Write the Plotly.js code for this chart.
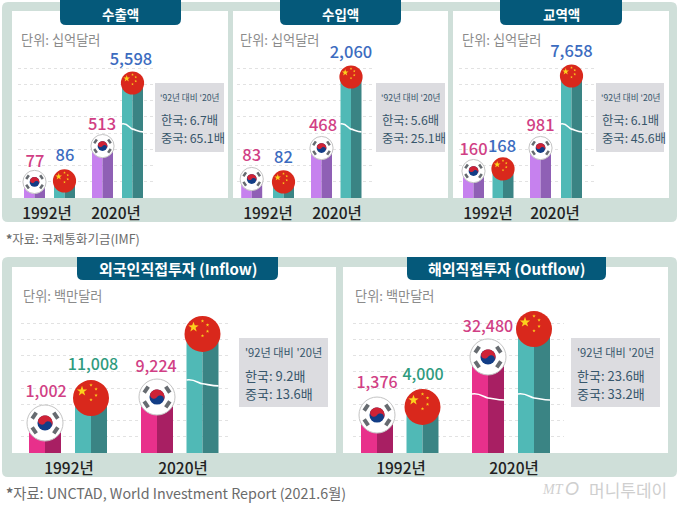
<!DOCTYPE html>
<html><head><meta charset="utf-8">
<script src="https://cdn.plot.ly/plotly-3.0.1.min.js"></script>
<style>html,body{margin:0;padding:0;background:#fff}#c{width:680px;height:505px}</style>
</head><body><div id="c"></div>
<script>
// ---- data ----
const years = ['1992년', '2020년'];
const panelTitles = ['수출액', '수입액', '교역액', '외국인직접투자 (Inflow)', '해외직접투자 (Outflow)'];
const unitLabels = ['단위: 십억달러', '단위: 십억달러', '단위: 십억달러', '단위: 백만달러', '단위: 백만달러'];
const exportKorea = [77, 513],      exportChina = [86, 5598];
const importKorea = [83, 468],      importChina = [82, 2060];
const tradeKorea = [160, 981],      tradeChina = [168, 7658];
const inflowKorea = [1002, 9224],   inflowChina = [11008, 149324];
const outflowKorea = [1376, 32480], outflowChina = [4000, 132940];
// The picture's bars are pictorial (broken scale): drawn heights in gridline steps.
const exportKoreaDrawn = [0.99, 3.2],   exportChinaDrawn = [1.05, 7.09];
const importKoreaDrawn = [1.17, 3.08],  importChinaDrawn = [0.99, 7.46];
const tradeKoreaDrawn = [1.66, 3.08],   tradeChinaDrawn = [1.79, 7.52];
const inflowKoreaDrawn = [1.85, 3.45],  inflowChinaDrawn = [3.39, 7.34];
const outflowKoreaDrawn = [2.34, 5.92], outflowChinaDrawn = [2.84, 7.64];
const koreaRatios = ['6.7배', '5.6배', '6.1배', '9.2배', '23.6배'];
const chinaRatios = ['65.1배', '25.1배', '45.6배', '13.6배', '33.2배'];
const compareLabel = "'92년 대비 '20년";
const sourceTop = '<b>*</b>자료: 국제통화기금(IMF)';
const sourceBottom = '<b>*</b>자료: UNCTAD, World Investment Report (2021.6월)';

// ---- layout of the five panels (page pixels) ----
const W = 680, H = 505;
const FONT = '"Noto Sans CJK KR","Noto Sans",sans-serif';
const px = x => x / W, py = y => 1 - y / H;
const panels = [
 {k:exportKorea,c:exportChina,kd:exportKoreaDrawn,cd:exportChinaDrawn,grid:[18,153],base:198,top:52,ticks:[47,116],
  barK:[34.5,102.5],barC:[64.5,132.5],bw:21,kRise:[19,20],cRise:[24,22],kX:[0.5,-0.5],cX:[0.5,-1.5],tab:[60,181],tabY:[0,25],box:[155,83,224,152],unitX:20,unitY:40,
  breaks:[[3,4.32]],small:true,flagR:11.6},
 {k:importKorea,c:importChina,kd:importKoreaDrawn,cd:importChinaDrawn,grid:[237,372],base:198,top:52,ticks:[268,337],
  barK:[251.7,321.5],barC:[283.5,351],bw:21,kRise:[22,21],cRise:[23,23],kX:[0,1.5],cX:[0,0],tab:[280,401],tabY:[0,25],box:[376,83,445,152],unitX:239,unitY:40,
  breaks:[[3,4.32]],small:true,flagR:11.6},
 {k:tradeKorea,c:tradeChina,kd:tradeKoreaDrawn,cd:tradeChinaDrawn,grid:[459,594],base:198,top:52,ticks:[488,555],
  barK:[473.5,540.5],barC:[503,571.5],bw:21,kRise:[20,21],cRise:[21,23],kX:[0,0],cX:[-1,0],tab:[500,622],tabY:[0,25],box:[596,83,664,152],unitX:461,unitY:40,
  breaks:[[3,4.32]],small:true,flagR:11.6},
 {k:inflowKorea,c:inflowChina,kd:inflowKoreaDrawn,cd:inflowChinaDrawn,grid:[21,230],base:453,top:307,ticks:[69,183],
  barK:[45,157],barC:[91,202.5],bw:32,kRise:[30,29],cRise:[32,30],kX:[1,-1],cX:[2,0.5],tab:[77,278],tabY:[257,280],box:[239,338,328,407],unitX:22,unitY:295,
  breaks:[[3,4.32]],small:false,flagR:18},
 {k:outflowKorea,c:outflowChina,kd:outflowKoreaDrawn,cd:outflowChinaDrawn,grid:[353,564],base:453,top:307,ticks:[401,514],
  barK:[377,488],barC:[422.5,534],bw:32,kRise:[31,29],cRise:[31,31],kX:[0,0],cX:[0.5,0],tab:[407,606],tabY:[257,280],box:[571,338,660,407],unitX:354,unitY:295,
  breaks:[[2,3.45],[3,3.45]],small:false,flagR:18}
];
const COL = {
  bg:'#cfdfd9', tab:'#05597a', box:'#dcdce0', boxText:'#37566b', grid:'#e2e2e2',
  kLightTop:'#c681ee', kDarkTop:'#8f60b5', kLightBot:'#e8308b', kDarkBot:'#a81f63',
  cLight:'#50b9b6', cDark:'#3a8484', pink:'#d13f85', blue:'#3c6cc0', green:'#2f9b7e',
  red:'#d9281c', star:'#fbd11d', kBlue:'#123d86', kRed:'#cf2236', tri:'#666b70', ring:'#c4c4c4'
};

const rr = (x0,y0,x1,y1,rt,rb) => {
  const X=px, Y=py;
  return `M ${X(x0+rt)} ${Y(y0)} L ${X(x1-rt)} ${Y(y0)} Q ${X(x1)} ${Y(y0)} ${X(x1)} ${Y(y0+rt)} L ${X(x1)} ${Y(y1-rb)} Q ${X(x1)} ${Y(y1)} ${X(x1-rb)} ${Y(y1)} L ${X(x0+rb)} ${Y(y1)} Q ${X(x0)} ${Y(y1)} ${X(x0)} ${Y(y1-rb)} L ${X(x0)} ${Y(y0+rt)} Q ${X(x0)} ${Y(y0)} ${X(x0+rt)} ${Y(y0)} Z`;
};
const paperRect = (x0,y0,x1,y1,color,rt=0,rb=0) => ({type:'path',layer:'below',xref:'paper',yref:'paper',
  path:rr(x0,y0,x1,y1,rt,rb),fillcolor:color,line:{width:0}});
const textAt = (x,y,text,size,color,anchor='left',extra={}) => ({xref:'paper',yref:'paper',x:px(x-(anchor==='left'?1.5:0)),y:py(y),text,
  showarrow:false,xanchor:anchor,yanchor:'middle',align:anchor,font:Object.assign({family:FONT,size,color},extra)});

const starPath = (cx,cy,R) => {
  let s='';
  for(let i=0;i<10;i++){
    const r=i%2?R*0.4:R, a=Math.PI/2+i*Math.PI/5;
    s+=(i?'L':'M')+(cx+r*Math.cos(a)).toFixed(2)+' '+(cy+r*Math.sin(a)).toFixed(2)+' ';
  }
  return s+'Z';
};
// Taeguk red part outline, relative to the flag centre (y up)
const arcPts = (cx,cy,r,a0,a1,n) => {
  const out=[];
  for(let i=0;i<=n;i++){const a=a0+(a1-a0)*i/n; out.push((cx+r*Math.cos(a)).toFixed(2)+' '+(cy+r*Math.sin(a)).toFixed(2));}
  return out;
};
const taegukRed = t => {
  const phi=Math.PI-0.6, ax=t*Math.cos(phi), ay=t*Math.sin(phi);
  const pts=[].concat(
    arcPts(0,0,t,phi,phi-Math.PI,24),
    arcPts(-ax/2,-ay/2,t/2,phi-Math.PI,phi,14),
    arcPts(ax/2,ay/2,t/2,phi-Math.PI,phi-2*Math.PI,14));
  return 'M '+pts.join(' L ')+' Z';
};

const traces=[], shapes=[], annotations=[], layout={};
shapes.push(paperRect(2,2,677,222,COL.bg,6,6));
shapes.push(paperRect(2,257,677,477,COL.bg,6,6));
const whites=[[12,11,228,198],[233,11,448,198],[453,11,669,198],[12,267,336,453],[343,267,668,453]];
whites.forEach(w=>shapes.push(paperRect(w[0],w[1],w[2],w[3],'#ffffff')));

panels.forEach((p,i)=>{
  const n=i+1, sfx=n===1?'':String(n);
  const xr='x'+sfx, yr='y'+sfx;
  const span=p.ticks[1]-p.ticks[0], unit=(p.base-p.top)/9;
  const yearIdx=years.map((_,j)=>j);
  const toX=(pxv,j)=>(pxv-p.ticks[j])/span;       // offset from the year tick
  layout['xaxis'+sfx]={domain:[px(p.grid[0]),px(p.grid[1])],anchor:yr,
    range:[(p.grid[0]-p.ticks[0])/span,(p.grid[1]-p.ticks[0])/span],
    tickmode:'array',tickvals:yearIdx,ticktext:years,ticks:'',showgrid:false,zeroline:false,showline:false,
    ticklabelstandoff:4,tickfont:{family:FONT,size:15.5,color:'#222222',weight:500},fixedrange:true};
  layout['yaxis'+sfx]={domain:[py(p.base),py(p.top)],anchor:xr,range:[0,9],tickmode:'linear',tick0:0,dtick:1,
    showticklabels:false,ticks:'',zeroline:false,showline:false,showgrid:true,gridcolor:COL.grid,griddash:'dot',gridwidth:1,fixedrange:true};

  const lightK=p.small?COL.kLightTop:COL.kLightBot, darkK=p.small?COL.kDarkTop:COL.kDarkBot;
  const hw=p.bw/2, w=hw/span;
  const half=(name,ys,centers,color,side)=>traces.push({type:'bar',name,x:yearIdx,y:ys,
    width:[w,w],offset:centers.map((c,j)=>toX(c,j)+(side<0?-w:0)),
    marker:{color,line:{width:0}},xaxis:xr,yaxis:yr,hoverinfo:'skip',showlegend:false});
  half('한국',p.kd,p.barK,lightK,-1); half('한국',p.kd,p.barK,darkK,1);
  half('중국',p.cd,p.barC,COL.cLight,-1); half('중국',p.cd,p.barC,COL.cDark,1);

  const lab=(name,vals,drawn,centers,rise,dx,color)=>traces.push({type:'scatter',mode:'text',name,
    x:yearIdx.map(j=>j+toX(centers[j]+dx[j],j)),y:drawn.map((d,j)=>d+rise[j]/unit),
    text:vals.map(v=>v.toLocaleString('en-US')),textposition:'middle center',cliponaxis:false,
    textfont:{family:FONT,size:p.small?16.5:16,color,weight:500},xaxis:xr,yaxis:yr,hoverinfo:'skip',showlegend:false});
  lab('한국',p.k,p.kd,p.barK,p.kRise,p.kX,COL.pink);
  lab('중국',p.c,p.cd,p.barC,p.cRise,p.cX,p.small?COL.blue:COL.green);

  // break marks on pictorial bars
  const anch=(xv,yv)=>({xref:xr,yref:yr,xsizemode:'pixel',ysizemode:'pixel',xanchor:xv,yanchor:yv,layer:'above'});
  p.breaks.forEach(b=>{
    const j=b[0]>=2?1:0, centers=(b[0]%2===0)?p.barK:p.barC;
    const a=hw, h=p.small?4:3;
    shapes.push(Object.assign(anch(j+toX(centers[j],j),b[1]),{type:'path',
      path:`M ${-a} ${h} C ${-a*0.5} ${h+1.5} ${-a*0.25} ${-h*0.2} 0 ${-h*0.3} S ${a*0.6} ${-h} ${a} ${-h}`,
      line:{color:'#ffffff',width:1.6},fillcolor:'rgba(0,0,0,0)'}));
  });

  // flags sit on the bar tops
  const R=p.flagR;
  years.forEach((_,j)=>{
    // Korea
    let A=anch(j+toX(p.barK[j],j),p.kd[j]);
    shapes.push(Object.assign({},A,{type:'circle',x0:-R,x1:R,y0:-R,y1:R,fillcolor:'#ffffff',line:{color:COL.ring,width:1}}));
    const t=R*0.42;
    [[1,1],[-1,1],[-1,-1],[1,-1]].forEach(q=>{
      const cx=q[0]*R*0.6, cy=q[1]*R*0.41;
      const ux=q[0]*0.82, uy=q[1]*0.57;           // radial unit vector
      const vx=-uy, vy=ux;
      const l=R*0.2, d=R*0.11;
      const c=(s,u)=>`${(cx+s*vx*l+u*ux*d).toFixed(2)} ${(cy+s*vy*l+u*uy*d).toFixed(2)}`;
      shapes.push(Object.assign({},A,{type:'path',path:`M ${c(-1,-1)} L ${c(1,-1)} L ${c(1,1)} L ${c(-1,1)} Z`,fillcolor:COL.tri,line:{width:0}}));
    });
    shapes.push(Object.assign({},A,{type:'circle',x0:-t,x1:t,y0:-t,y1:t,fillcolor:COL.kBlue,line:{width:0}}));
    shapes.push(Object.assign({},A,{type:'path',path:taegukRed(t),fillcolor:COL.kRed,line:{width:0}}));
    // China
    A=anch(j+toX(p.barC[j],j),p.cd[j]);
    shapes.push(Object.assign({},A,{type:'circle',x0:-R,x1:R,y0:-R,y1:R,fillcolor:COL.red,line:{width:0}}));
    shapes.push(Object.assign({},A,{type:'path',path:starPath(-0.5*R,0.38*R,0.3*R),fillcolor:COL.star,line:{width:0}}));
    [[0,0.72],[0.28,0.5],[0.28,0.15],[0,-0.1]].forEach(s=>
      shapes.push(Object.assign({},A,{type:'path',path:starPath(s[0]*R,s[1]*R,Math.max(0.1*R,1.4)),fillcolor:COL.star,line:{width:0}})));
  });

  // tab, unit, comparison box
  shapes.push(paperRect(p.tab[0],p.tabY[0],p.tab[1],p.tabY[1],COL.tab,0,6));
  const tabC=(p.tab[0]+p.tab[1])/2, tabM=p.small?14:268;
  annotations.push(textAt(tabC,tabM,panelTitles[i],p.small?13.5:15,'#ffffff','center',{weight:700}));
  annotations.push(textAt(p.unitX,p.unitY,unitLabels[i],13.2,'#8b8b8b'));
  const b=p.box;
  shapes.push(paperRect(b[0],b[1],b[2],b[3],COL.box));
  const ys=[b[1]+14,b[1]+37,b[1]+55];
  annotations.push(textAt((b[0]+b[2])/2,ys[0],compareLabel,p.small?8.6:11.2,COL.boxText,'center'));
  annotations.push(textAt(b[0]+5,ys[1],'한국: '+koreaRatios[i],p.small?12.3:13,COL.boxText));
  annotations.push(textAt(b[0]+5,ys[2],'중국: '+chinaRatios[i],p.small?12.3:13,COL.boxText));
});

annotations.push(textAt(5,238,sourceTop,12.5,'#6b6b6b'));
annotations.push(textAt(5,492,sourceBottom,14.3,'#6b6b6b'));
annotations.push(textAt(541,489,'<i>MT</i>',14,'#cfcfcf',"left",{family:'"Liberation Serif",serif'}));
annotations.push(textAt(564,489,'<i>O</i>',18,'#cfcfcf','left',{family:'"Liberation Sans",sans-serif'}));
annotations.push(textAt(588,489,'머니투데이',17,'#cfcfcf'));

Object.assign(layout,{width:W,height:H,margin:{l:0,r:0,t:0,b:0,pad:0},paper_bgcolor:'#ffffff',plot_bgcolor:'rgba(0,0,0,0)',
  barmode:'overlay',showlegend:false,shapes,annotations,font:{family:FONT},hovermode:false});
Plotly.newPlot('c',traces,layout,{displayModeBar:false,staticPlot:true});
</script>
</body></html>
